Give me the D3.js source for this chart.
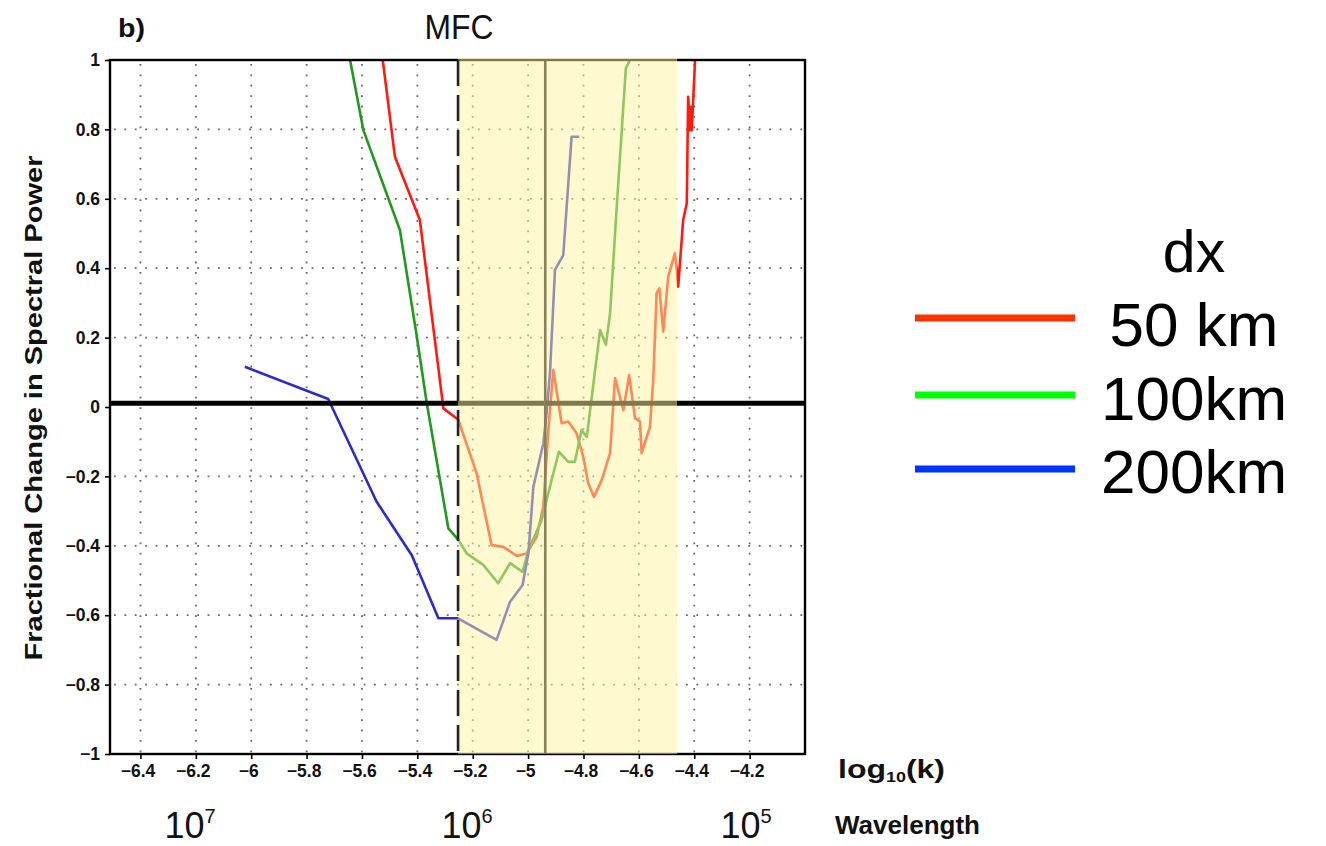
<!DOCTYPE html>
<html><head><meta charset="utf-8">
<script src="https://cdn.jsdelivr.net/npm/d3@7"></script>
<style>body{margin:0;background:#fff;} svg{display:block;}</style>
</head><body>
<svg id="c" width="1326" height="846"></svg>
<script>
// ---------- data ----------
const xTicks = [-6.4, -6.2, -6.0, -5.8, -5.6, -5.4, -5.2, -5.0, -4.8, -4.6, -4.4, -4.2];
const yTicks = [-1, -0.8, -0.6, -0.4, -0.2, 0, 0.2, 0.4, 0.6, 0.8, 1];
const seriesNames = ["50 km", "100km", "200km"];
const seriesColors = ["#ff1a10", "#1f9a1f", "#2b2bcc"];
const legendColors = ["#ff3300", "#00ff00", "#0033ff"];

const logk50 = [-5.525,-5.481,-5.391,-5.306,-5.252,-5.186,-5.132,-5.090,-5.041,-5.005,-4.969,-4.945,-4.927,-4.909,-4.879,-4.855,-4.825,-4.801,-4.783,-4.762,-4.734,-4.704,-4.686,-4.656,-4.635,-4.614,-4.596,-4.590,-4.560,-4.548,-4.536,-4.526,-4.512,-4.494,-4.470,-4.463,-4.458,-4.440,-4.427,-4.422,-4.415,-4.413,-4.409,-4.397];
const frac50  = [1.0,0.721,0.539,-0.004,-0.037,-0.191,-0.398,-0.403,-0.429,-0.422,-0.374,-0.287,-0.066,0.107,-0.047,-0.042,-0.076,-0.143,-0.220,-0.259,-0.210,-0.133,0.083,-0.009,0.092,-0.032,-0.042,-0.133,-0.057,0.078,0.328,0.342,0.217,0.376,0.443,0.395,0.347,0.539,0.587,0.894,0.798,0.865,0.798,1.0];

const logk100 = [-5.643,-5.595,-5.463,-5.402,-5.366,-5.288,-5.252,-5.222,-5.162,-5.108,-5.065,-5.020,-4.999,-4.951,-4.915,-4.889,-4.855,-4.831,-4.807,-4.788,-4.770,-4.740,-4.719,-4.704,-4.680,-4.647,-4.632];
const frac100 = [1.0,0.798,0.510,0.203,0.011,-0.350,-0.383,-0.422,-0.455,-0.508,-0.450,-0.475,-0.412,-0.326,-0.210,-0.129,-0.158,-0.158,-0.066,-0.086,0.030,0.222,0.179,0.270,0.577,0.976,1.0];

const logk200 = [-6.023,-5.722,-5.547,-5.420,-5.324,-5.253,-5.114,-5.065,-5.020,-4.999,-4.981,-4.945,-4.933,-4.921,-4.903,-4.873,-4.843,-4.815];
const frac200 = [0.116,0.023,-0.273,-0.427,-0.609,-0.609,-0.671,-0.561,-0.513,-0.422,-0.230,-0.105,-0.017,0.098,0.395,0.438,0.779,0.779];

const zeroLine = 0.011;
const dashedK = -5.253;
const solidK = -4.938;
const bandK = [-5.253, -4.462];
const wlExp = ["7", "6", "5"];
const wlPos = [-6.313, -5.313, -4.305];

// ---------- layout ----------
const svg = d3.select("#c");
const L = 110, R = 805, T = 60, B = 754;
const x = d3.scaleLinear().domain([-6.51, -4.0]).range([L, R]);
const y = d3.scaleLinear().domain([-1, 1]).range([B, T]);
const FONT = "'Liberation Sans', Arial, sans-serif";

const g = svg.append("g");
// grid
g.selectAll(".vg").data(xTicks).join("line")
  .attr("x1", d => x(d)).attr("x2", d => x(d)).attr("y1", T + 4).attr("y2", B)
  .attr("stroke", "#6e6660").attr("stroke-width", 1.8).attr("stroke-dasharray", "1.8,8.6");
g.selectAll(".hg").data(yTicks.filter(d => d > -1 && d < 1 && d !== 0)).join("line")
  .attr("x1", L + 4).attr("x2", R).attr("y1", d => y(d)).attr("y2", d => y(d))
  .attr("stroke", "#6e6660").attr("stroke-width", 1.8).attr("stroke-dasharray", "1.8,8.6");

// data lines
const line = d3.line().x(d => x(d[0])).y(d => y(d[1]));
const series = [d3.zip(logk50, frac50), d3.zip(logk100, frac100), d3.zip(logk200, frac200)];
svg.append("clipPath").attr("id", "pc").append("rect")
  .attr("x", L).attr("y", T).attr("width", R - L).attr("height", B - T);
g.selectAll(".s").data(series).join("path")
  .attr("d", line).attr("fill", "none")
  .attr("stroke", (d, i) => seriesColors[i]).attr("stroke-width", 2.6)
  .attr("stroke-linejoin", "round").attr("clip-path", "url(#pc)");

// zero line
g.append("line").attr("x1", L).attr("x2", R).attr("y1", y(zeroLine)).attr("y2", y(zeroLine))
  .attr("stroke", "#000").attr("stroke-width", 5);
// solid vertical
g.append("line").attr("x1", x(solidK)).attr("x2", x(solidK)).attr("y1", T).attr("y2", B)
  .attr("stroke", "#111").attr("stroke-width", 2.6);
// frame
g.append("rect").attr("x", L).attr("y", T).attr("width", R - L).attr("height", B - T)
  .attr("fill", "none").attr("stroke", "#000").attr("stroke-width", 2.4);
// yellow band overlay
g.append("rect").attr("x", x(bandK[0])).attr("y", T - 2).attr("width", x(bandK[1]) - x(bandK[0])).attr("height", B - T + 2)
  .attr("fill", "rgb(255,243,160)").attr("opacity", 0.5);
// dashed vertical
g.append("line").attr("x1", x(dashedK)).attr("x2", x(dashedK)).attr("y1", T).attr("y2", B)
  .attr("stroke", "#222").attr("stroke-width", 2.6).attr("stroke-dasharray", "26,9");

// axes
const fmt = d3.format("");
const xa = svg.append("g").attr("transform", `translate(0,${B})`)
  .call(d3.axisBottom(x).tickValues(xTicks).tickFormat(fmt).tickSize(5).tickPadding(6));
const ya = svg.append("g").attr("transform", `translate(${L},0)`)
  .call(d3.axisLeft(y).tickValues(yTicks).tickFormat(fmt).tickSize(5).tickPadding(5));
[xa, ya].forEach(a => {
  a.select(".domain").remove();
  a.selectAll("line").attr("stroke", "#000").attr("stroke-width", 1.6);
  a.selectAll("text").attr("font-family", FONT).attr("font-weight", "bold").attr("fill", "#111");
});
xa.selectAll("text").attr("font-size", 17.5).attr("dx", -3);
ya.selectAll("text").attr("font-size", 17.5);

// titles
svg.append("text").attr("x", 118).attr("y", 37).text("b)")
  .attr("font-family", FONT).attr("font-weight", "bold").attr("font-size", 26)
  .attr("textLength", 27).attr("lengthAdjust", "spacingAndGlyphs").attr("fill", "#111");
svg.append("text").attr("x", 459).attr("y", 39).attr("text-anchor", "middle").text("MFC")
  .attr("font-family", FONT).attr("font-size", 35).attr("textLength", 69).attr("lengthAdjust", "spacingAndGlyphs").attr("fill", "#111");
svg.append("text").attr("transform", `translate(42,408) rotate(-90)`).attr("text-anchor", "middle")
  .text("Fractional Change in Spectral Power")
  .attr("font-family", FONT).attr("font-weight", "bold").attr("font-size", 23)
  .attr("textLength", 505).attr("lengthAdjust", "spacingAndGlyphs").attr("fill", "#111");

const lk = svg.append("text").attr("x", 838).attr("y", 778)
  .attr("font-family", FONT).attr("font-weight", "bold").attr("font-size", 25).attr("fill", "#111")
  .attr("textLength", 107).attr("lengthAdjust", "spacingAndGlyphs");
lk.append("tspan").text("log");
lk.append("tspan").attr("font-size", 14).attr("dy", 4).text("10");
lk.append("tspan").attr("dy", -4).text("(k)");

svg.append("text").attr("x", 835).attr("y", 834).text("Wavelength")
  .attr("font-family", FONT).attr("font-weight", "bold").attr("font-size", 25)
  .attr("textLength", 145).attr("lengthAdjust", "spacingAndGlyphs").attr("fill", "#111");

const wl = svg.selectAll(".wl").data(wlExp).join("text")
  .attr("x", (d, i) => x(wlPos[i])).attr("y", 838)
  .attr("font-family", FONT).attr("font-size", 36).attr("fill", "#111");
wl.append("tspan").text("10");
wl.append("tspan").attr("font-size", 20).attr("dy", -15).text(d => d);

// legend
svg.append("text").attr("x", 1194).attr("y", 272).attr("text-anchor", "middle").text("dx")
  .attr("font-family", FONT).attr("font-size", 59).attr("fill", "#000");
const legY = [318, 395, 469];
const legTextY = [346, 420, 493];
seriesNames.forEach((n, i) => {
  svg.append("line").attr("x1", 915).attr("x2", 1075).attr("y1", legY[i]).attr("y2", legY[i])
    .attr("stroke", legendColors[i]).attr("stroke-width", 7);
  svg.append("text").attr("x", 1194).attr("y", legTextY[i]).attr("text-anchor", "middle").text(n)
    .attr("font-family", FONT).attr("font-size", 62).attr("fill", "#000");
});
</script>
</body></html>
